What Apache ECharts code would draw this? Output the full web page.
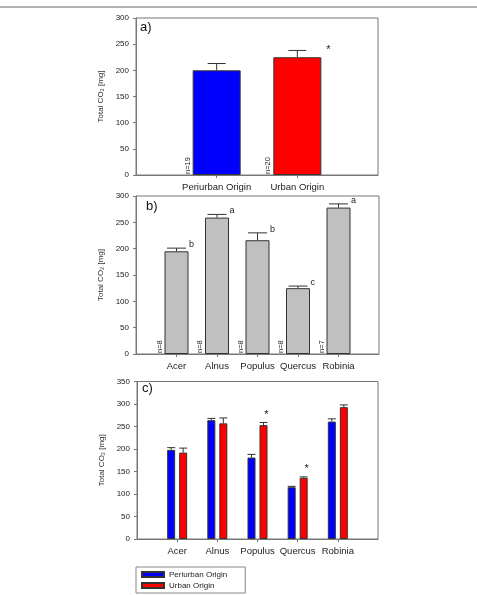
<!DOCTYPE html>
<html>
<head>
    <meta charset="utf-8">
    <title>Total CO2</title>
    <script src="https://cdn.jsdelivr.net/npm/echarts/dist/echarts.min.js"></script>
    <style>
        body { margin: 0; background: #fff; }
        #chart1 { width: 477px; height: 595px; }
    </style>
</head>
<body>
<div id="chart1"></div>
<script type="text/javascript">
    // panel a) origin only
    var originCats = ['Periurban Origin', 'Urban Origin'];
    var originMean = [200, 225];
    var originErr = [13, 13];
    var originN = ['n=19', 'n=20'];
    var originMark = ['', '*'];

    // panel b) species
    var species = ['Acer', 'Alnus', 'Populus', 'Quercus', 'Robinia'];
    var speciesMean = [195, 259, 216, 125, 278];
    var speciesErr = [6, 6, 14, 4, 7];
    var speciesN = ['n=8', 'n=8', 'n=8', 'n=8', 'n=7'];
    var speciesLetter = ['b', 'a', 'b', 'c', 'a'];

    // panel c) species x origin
    var periMean = [198, 264, 181, 115, 261];
    var periErr = [5, 4, 7, 2, 6];
    var urbMean = [192, 257, 253, 136, 293];
    var urbErr = [10, 12, 6, 2, 5];
    var urbMark = ['', '', '*', '*', ''];

    var yTicksAB = [0, 300, 50];
    var yTicksC = [0, 350, 50];

    var FONT = 'Liberation Sans, Arial, sans-serif';
    var BLUE = '#0000ff', RED = '#ff0000', GREY = '#c0c0c0';

    // empty slots at both ends so category points sit inside the frame
    function pad(arr) { return [''].concat(arr, ['']); }
    function padVal(arr) { return ['-'].concat(arr, ['-']); }

    function xAxisFor(gridIndex, cats) {
        return {
            type: 'category', gridIndex: gridIndex, data: pad(cats), boundaryGap: false,
            axisLine: { lineStyle: { color: '#777', width: 1 } },
            axisTick: { length: 3, lineStyle: { color: '#777' },
                interval: function (i) { return i > 0 && i <= cats.length; } },
            axisLabel: { fontSize: 9.5, color: '#222', fontFamily: FONT, margin: 7, interval: 0 },
            splitLine: { show: false }
        };
    }
    function yAxisFor(gridIndex, ticks) {
        return {
            type: 'value', gridIndex: gridIndex, min: ticks[0], max: ticks[1], interval: ticks[2],
            name: 'Total CO\u2082 [mg]', nameLocation: 'middle', nameGap: 25,
            nameTextStyle: { fontSize: 8, color: '#333', fontFamily: FONT },
            axisLine: { show: true, lineStyle: { color: '#777', width: 1 } },
            axisTick: { show: true, length: 3, lineStyle: { color: '#777' } },
            axisLabel: { fontSize: 8, color: '#222', fontFamily: FONT, margin: 7 },
            splitLine: { show: false }
        };
    }

    // error bar + annotation series
    function errSeries(idx, mean, err, opt) {
        var data = mean.map(function (m, i) { return [i + 1, m, m + err[i]]; });
        return {
            type: 'custom', xAxisIndex: idx, yAxisIndex: idx, z: 5, silent: true,
            data: data,
            renderItem: function (params, api) {
                var i = params.dataIndex;
                var base = api.coord([api.value(0), 0]);
                var top = api.coord([api.value(0), api.value(1)]);
                var hi = api.coord([api.value(0), api.value(2)]);
                var x = base[0] + (opt.offset || 0);
                var half = opt.cap / 2;
                var st = { stroke: '#333', lineWidth: 1 };
                var kids = [
                    { type: 'line', shape: { x1: x, y1: top[1], x2: x, y2: hi[1] }, style: st },
                    { type: 'line', shape: { x1: x - half, y1: hi[1], x2: x + half, y2: hi[1] }, style: st }
                ];
                if (opt.n) {
                    kids.push({ type: 'text', x: x - opt.barWidth / 2 - 5, y: base[1] - 1, rotation: Math.PI / 2,
                        style: { text: opt.n[i], fontSize: 7.5, fill: '#222', fontFamily: FONT,
                            align: 'left', verticalAlign: 'middle' } });
                }
                if (opt.letter && opt.letter[i]) {
                    kids.push({ type: 'text', x: x + half + 3, y: hi[1] + 1,
                        style: { text: opt.letter[i], fontSize: 9, fill: '#222', fontFamily: FONT,
                            align: 'left', verticalAlign: 'bottom' } });
                }
                if (opt.starRight && opt.starRight[i]) {
                    kids.push({ type: 'text', x: x + opt.barWidth / 2 + 7, y: hi[1],
                        style: { text: opt.starRight[i], fontSize: 11, fill: '#222', fontFamily: FONT,
                            align: 'center', verticalAlign: 'middle' } });
                }
                if (opt.starTop && opt.starTop[i]) {
                    kids.push({ type: 'text', x: x + 3, y: hi[1] - 2,
                        style: { text: opt.starTop[i], fontSize: 11, fill: '#222', fontFamily: FONT,
                            align: 'center', verticalAlign: 'bottom' } });
                }
                return { type: 'group', children: kids };
            }
        };
    }

    var barBorder = { borderColor: '#333', borderWidth: 1 };

    var myChart1 = echarts.init(document.getElementById('chart1'));
    myChart1.setOption({
        animation: false,
        backgroundColor: '#fff',
        textStyle: { fontFamily: FONT },
        title: [
            { text: 'a)', left: 140, top: 21, padding: 0, textStyle: { fontSize: 13, fontWeight: 'normal', color: '#111' } },
            { text: 'b)', left: 146, top: 200, padding: 0, textStyle: { fontSize: 13, fontWeight: 'normal', color: '#111' } },
            { text: 'c)', left: 142, top: 382, padding: 0, textStyle: { fontSize: 13, fontWeight: 'normal', color: '#111' } }
        ],
        graphic: [
            { type: 'line', shape: { x1: 0, y1: 7, x2: 477, y2: 7 }, style: { stroke: '#999', lineWidth: 1.5 } }
        ],
        grid: [
            { left: 136, top: 18, width: 242, height: 157, show: true, borderColor: '#777', borderWidth: 1 },
            { left: 136, top: 196, width: 243, height: 158, show: true, borderColor: '#777', borderWidth: 1 },
            { left: 137, top: 381.5, width: 241, height: 157.5, show: true, borderColor: '#777', borderWidth: 1 }
        ],
        xAxis: [ xAxisFor(0, originCats), xAxisFor(1, species), xAxisFor(2, species) ],
        yAxis: [ yAxisFor(0, yTicksAB), yAxisFor(1, yTicksAB), yAxisFor(2, yTicksC) ],
        legend: {
            data: ['Periurban Origin', 'Urban Origin'],
            orient: 'vertical', left: 136, top: 567,
            borderColor: '#888', borderWidth: 1, padding: [3, 18, 3, 5],
            itemWidth: 22, itemHeight: 5, itemGap: 2, icon: 'rect', selectedMode: false,
            textStyle: { fontSize: 8, color: '#222', fontFamily: FONT, lineHeight: 9 }
        },
        series: [
            {
                name: 'Origin', type: 'bar', xAxisIndex: 0, yAxisIndex: 0, barWidth: 48,
                data: padVal(originMean.map(function (v, i) {
                    return { value: v, itemStyle: { color: i === 0 ? BLUE : RED } };
                })),
                itemStyle: barBorder
            },
            errSeries(0, originMean, originErr, { cap: 18, barWidth: 48, n: originN, starRight: originMark }),
            {
                name: 'Species', type: 'bar', xAxisIndex: 1, yAxisIndex: 1, barWidth: 24,
                data: padVal(speciesMean),
                itemStyle: { color: GREY, borderColor: '#333', borderWidth: 1 }
            },
            errSeries(1, speciesMean, speciesErr, { cap: 19, barWidth: 24, n: speciesN, letter: speciesLetter }),
            {
                name: 'Periurban Origin', type: 'bar', xAxisIndex: 2, yAxisIndex: 2, barWidth: 8, barGap: '50%',
                data: padVal(periMean),
                itemStyle: { color: BLUE, borderColor: '#333', borderWidth: 1 }
            },
            {
                name: 'Urban Origin', type: 'bar', xAxisIndex: 2, yAxisIndex: 2, barWidth: 8, barGap: '50%',
                data: padVal(urbMean),
                itemStyle: { color: RED, borderColor: '#333', borderWidth: 1 }
            },
            errSeries(2, periMean, periErr, { cap: 8, barWidth: 8, offset: -6 }),
            errSeries(2, urbMean, urbErr, { cap: 8, barWidth: 8, offset: 6, starTop: urbMark })
        ]
    });
</script>
</body>
</html>
